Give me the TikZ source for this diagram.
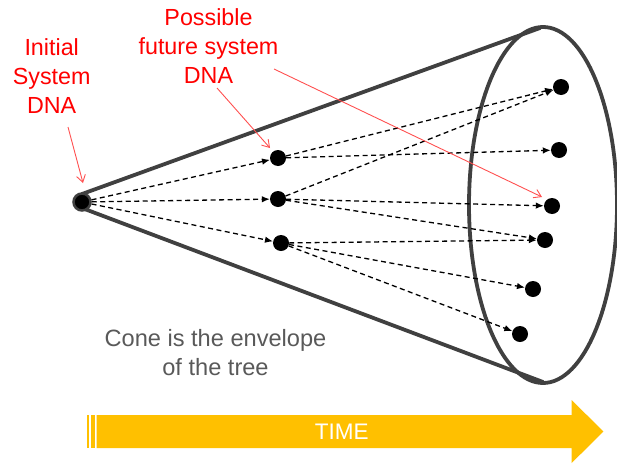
\documentclass[tikz,border=0pt]{standalone}
\usepackage{fontspec}
\setmainfont{Liberation Sans}
\usetikzlibrary{arrows.meta}
\definecolor{conegray}{HTML}{404040}
\definecolor{labelred}{HTML}{FF0000}
\definecolor{pointerred}{HTML}{FF5050}
\definecolor{timeyellow}{HTML}{FFC000}
\definecolor{notegray}{HTML}{595959}
\begin{document}
\begin{tikzpicture}[x=1pt,y=-1pt,
  dot/.style={circle,fill=black,inner sep=0pt,minimum size=16pt},
  origindot/.style={circle,fill=black,draw=conegray,line width=2.5pt,inner sep=0pt,minimum size=17pt},
  coneline/.style={draw=conegray,line width=3.8pt,line cap=round,line join=round},
  flow/.style={draw=black,line width=1.3pt,dash pattern=on 5pt off 3.5pt,-{Latex[length=8pt,width=6.5pt]}},
  pointer/.style={draw=pointerred,line width=0.9pt,-{Straight Barb[length=7pt,width=9pt]}},
  redlabel/.style={text=labelred,align=center,font=\fontsize{23.3}{29}\selectfont,inner sep=0pt},
  note/.style={text=notegray,align=center,font=\fontsize{23.6}{29}\selectfont,inner sep=0pt},
  timetext/.style={text=white,font=\fontsize{22.5}{27}\selectfont,inner sep=0pt}]
\useasboundingbox (0,0) rectangle (617,463);

% cone
\draw[coneline] (543,205) ellipse [x radius=74pt, y radius=178pt];
\draw[coneline] (540,28) -- (82,194);
\draw[coneline] (543,382) -- (82,208);

% nodes
\node[origindot] (o) at (82,202) {};
\node[dot] (m1) at (278,158) {};
\node[dot] (m2) at (278,199) {};
\node[dot] (m3) at (281,243) {};
\node[dot] (r1) at (561,87) {};
\node[dot] (r2) at (559,150) {};
\node[dot] (r3) at (552,206) {};
\node[dot] (r4) at (545,240) {};
\node[dot] (r5) at (533,289) {};
\node[dot] (r6) at (520,334) {};

% tree
\draw[flow] (o) -- (m1);
\draw[flow] (o) -- (m2);
\draw[flow] (o) -- (m3);
\draw[flow] (m1) -- (r1);
\draw[flow] (m1) -- (r2);
\draw[flow] (m2) -- (r1);
\draw[flow] (m2) -- (r3);
\draw[flow] (m2) -- (r4);
\draw[flow] (m3) -- (r4);
\draw[flow] (m3) -- (r5);
\draw[flow] (m3) -- (r6);

% labels (base anchor = baseline of the last line)
\node[redlabel,anchor=base] (initial) at (51.7,113.3) {Initial\\System\\DNA};
\node[redlabel,anchor=base] (possible) at (208.5,83.3) {Possible\\future system\\DNA};
\node[note,anchor=base] (cone) at (215.5,375) {Cone is the envelope\\of the tree};

\coordinate (p1s) at (68,127);
\coordinate (p1e) at (83,183);
\coordinate (p2s) at (217,88);
\coordinate (p2e) at (270,148);
\coordinate (p3s) at (274,69);
\coordinate (p3e) at (542,197);
\draw[pointer] (p1s) -- (p1e);
\draw[pointer] (p2s) -- (p2e);
\draw[pointer] (p3s) -- (p3e);

% time arrow
\fill[timeyellow] (86.7,415) rectangle (88.7,448);
\fill[timeyellow] (90.7,415) rectangle (95,448);
\fill[timeyellow] (96.7,415) -- (571.7,415) -- (571.7,400) -- (603.3,431.5)
  -- (571.7,463) -- (571.7,448) -- (96.7,448) -- cycle;
\node[timetext] (time) at (341.7,431.5) {TIME};
\end{tikzpicture}
\end{document}
